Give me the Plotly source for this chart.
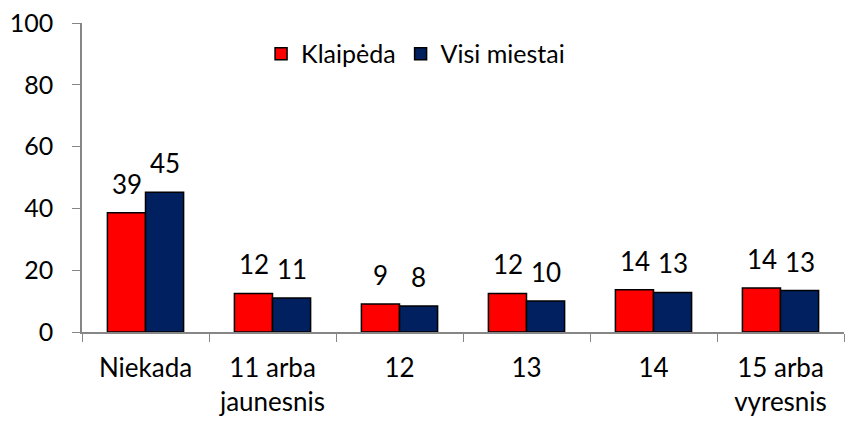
import plotly.graph_objects as go

kategorijos = ["Niekada", "11 arba<br>jaunesnis", "12", "13", "14", "15 arba<br>vyresnis"]
klaipeda = [38.6, 12.5, 9.1, 12.5, 13.7, 14.2]
visi_miestai = [45.2, 11.0, 8.4, 10.0, 12.8, 13.4]

fig = go.Figure()
# stulpeliai
fig.add_trace(go.Bar(name="Klaipėda", x=kategorijos, y=klaipeda,
                     marker=dict(color="#ff0000", line=dict(color="black", width=1.5))))
fig.add_trace(go.Bar(name="Visi miestai", x=kategorijos, y=visi_miestai,
                     marker=dict(color="#002060", line=dict(color="black", width=1.5))))

# reiksmes virs stulpeliu (x = kategorijos indeksas)
for serija, poslinkis in [(klaipeda, -19), (visi_miestai, 19)]:
    for i, v in enumerate(serija):
        fig.add_annotation(x=i, y=v, text=f"{v:.0f}", showarrow=False,
                           xshift=poslinkis, yshift=29, yanchor="middle",
                           font=dict(size=26, color="black"))

fig.update_layout(
    width=857, height=421,
    margin=dict(l=74, r=21, t=15, b=97),
    paper_bgcolor="white", plot_bgcolor="white",
    font=dict(family="Lato, Open Sans, sans-serif", size=25, color="black"),
    barmode="group", bargap=0.40, bargroupgap=0,
    showlegend=True,
    legend=dict(orientation="h", x=0.235, xanchor="left", y=0.90, yanchor="middle",
                font=dict(size=25), bgcolor="rgba(0,0,0,0)", itemwidth=30),
)
fig.update_yaxes(range=[0, 100], dtick=20, showgrid=False, showline=True,
                 linecolor="#868686", linewidth=1.5, ticks="outside", ticklen=8,
                 tickcolor="#868686", zeroline=False, tickfont=dict(size=25),
                 ticklabeloverflow="allow", ticklabelstandoff=14, automargin=False)
fig.update_xaxes(type="category", showline=True, linecolor="#868686", linewidth=1.5,
                 ticks="outside", ticklen=8, tickcolor="#868686", tickson="boundaries",
                 showgrid=False, tickangle=0, tickfont=dict(size=26),
                 ticklabelstandoff=12, automargin=False)

fig.write_html("out.html")
